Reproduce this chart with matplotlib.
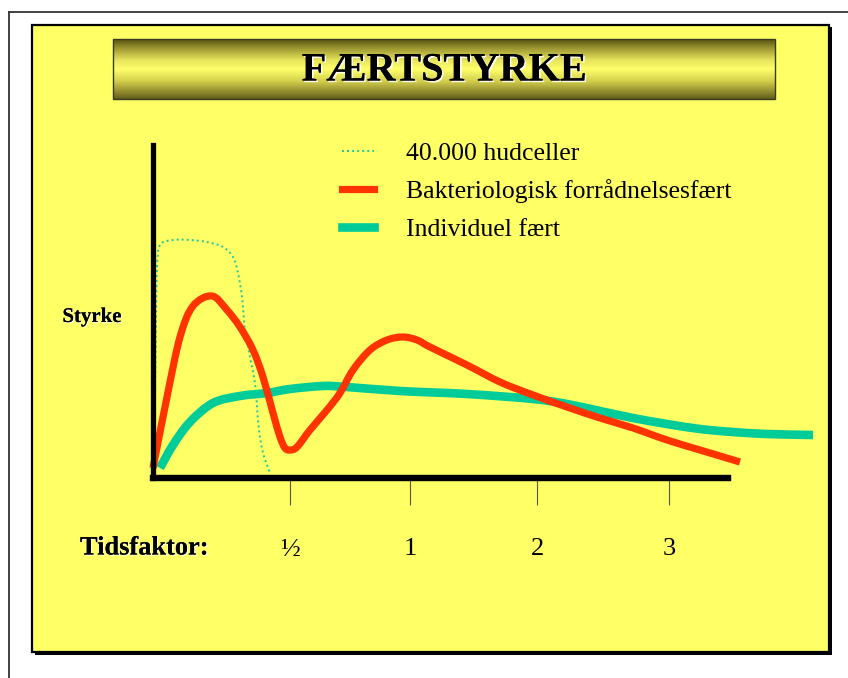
import numpy as np
import matplotlib
matplotlib.use('Agg')
import matplotlib.pyplot as plt
import matplotlib.patheffects as pe
from matplotlib.colors import LinearSegmentedColormap
from matplotlib.patches import Rectangle, PathPatch
from matplotlib.path import Path
from matplotlib.lines import Line2D

# Tidsakse: tick-positioner og etiketter
tick_pos = [1.37, 2.57, 3.84, 5.16]
tick_labels = ['½', '1', '2', '3']

# 40.000 hudceller (prikket)
hud_x = [0.00, 0.02, 0.03, 0.04, 0.07, 0.20, 0.37, 0.54, 0.70, 0.80, 0.85, 0.89,
         0.92, 0.97, 1.02, 1.04, 1.06, 1.10, 1.17]
hud_y = [0.14, 0.80, 1.60, 2.10, 2.33, 2.38, 2.38, 2.36, 2.31, 2.21, 2.05, 1.81,
         1.48, 1.21, 0.95, 0.71, 0.48, 0.25, 0.05]

# Bakteriologisk forrådnelsesfært
bak_x = [0.00, 0.14, 0.27, 0.40, 0.59, 0.74, 0.87, 1.00, 1.10, 1.20, 1.27,
         1.32, 1.37, 1.44, 1.57, 1.74, 1.87, 2.00, 2.17, 2.34, 2.50, 2.64, 2.77,
         3.14, 3.47, 3.80, 4.14, 4.47, 4.80, 5.14, 5.47, 5.87]
bak_y = [0.10, 0.81, 1.41, 1.72, 1.82, 1.68, 1.51, 1.28, 1.01, 0.65, 0.41,
         0.30, 0.28, 0.31, 0.48, 0.68, 0.85, 1.08, 1.28, 1.38, 1.41, 1.38, 1.31,
         1.13, 0.96, 0.83, 0.71, 0.60, 0.50, 0.38, 0.28, 0.16]

# Individuel fært
ind_x = [0.07, 0.20, 0.37, 0.60, 0.87, 1.14, 1.37, 1.70, 1.94, 2.47, 3.14, 3.80,
         4.14, 4.47, 4.80, 5.14, 5.47, 5.80, 6.14, 6.60]
ind_y = [0.10, 0.33, 0.56, 0.75, 0.82, 0.85, 0.89, 0.92, 0.91, 0.87, 0.84, 0.79,
         0.74, 0.67, 0.60, 0.54, 0.49, 0.46, 0.44, 0.43]

W, H = 848, 678
yellow = '#ffff66'
teal = '#00cc99'
red = '#ff3300'
dot_col = '#1ec8a0'
serif = ['Liberation Serif', 'DejaVu Serif']


def smooth_path(xs, ys):
    # glat kurve gennem punkterne (Catmull-Rom som kubiske Bezier-segmenter)
    p = np.column_stack([xs, ys])
    verts = [p[0]]
    codes = [Path.MOVETO]
    for i in range(len(p) - 1):
        p0 = p[i - 1] if i > 0 else p[i]
        p3 = p[i + 2] if i + 2 < len(p) else p[i + 1]
        c1 = p[i] + (p[i + 1] - p0) / 6
        c2 = p[i + 1] - (p3 - p[i]) / 6
        verts += [c1, c2, p[i + 1]]
        codes += [Path.CURVE4] * 3
    return Path(verts, codes)


fig = plt.figure(figsize=(W / 100, H / 100), dpi=100, facecolor='white')

# baggrund i pixel-koordinater
bg = fig.add_axes([0, 0, 1, 1], zorder=0)
bg.set_xlim(0, W)
bg.set_ylim(H, 0)
bg.axis('off')
bg.plot([8.5, W], [11.5, 11.5], color='#333333', lw=1.3)
bg.plot([8.5, 8.5], [11.5, H], color='#333333', lw=1.3)
# panel med skygge
bg.add_patch(Rectangle((35, 27), 797, 628, facecolor='black', edgecolor='none'))
bg.add_patch(Rectangle((32, 24.5), 796.5, 627, facecolor=yellow, edgecolor='black', lw=1.6))

# titelbanner med gradient
cmap = LinearSegmentedColormap.from_list('banner', [
    (0.0, '#56520f'), (0.15, '#9c9630'), (0.35, '#e6e45c'), (0.5, '#ffff6a'),
    (0.7, '#d4d04c'), (0.9, '#8a842c'), (1.0, '#625c1c')])
grad = np.linspace(0, 1, 200).reshape(-1, 1)
bg.imshow(grad, cmap=cmap, aspect='auto', extent=(113, 775, 99, 39), zorder=2)
bg.add_patch(Rectangle((113, 39), 662, 60, facecolor='none', edgecolor='#3a3a20', lw=1.0, zorder=3))
bg.text(444, 71, 'FÆRTSTYRKE', family=serif, fontsize=29, fontweight='bold',
        ha='center', va='center', zorder=4,
        path_effects=[pe.withSimplePatchShadow(offset=(1.2, -1.2), shadow_rgbFace='white', alpha=0.9),
                      pe.Normal()])

shadow = [pe.withSimplePatchShadow(offset=(0.8, -0.8), shadow_rgbFace='white', alpha=0.9), pe.Normal()]
bg.text(92, 317, 'Styrke', family=serif, fontsize=15, fontweight='bold',
        ha='center', va='center', path_effects=shadow)
bg.text(80, 548, 'Tidsfaktor:', family=serif, fontsize=19, fontweight='bold',
        ha='left', va='center', path_effects=shadow)

# diagram
ax = fig.add_axes([153 / W, 200 / H, 665 / W, 333 / H], zorder=5)
ax.patch.set_alpha(0)
ax.set_xlim(0, 6.65)
ax.set_ylim(0, 3.33)

ax.add_patch(PathPatch(smooth_path(hud_x, hud_y), facecolor='none', edgecolor=dot_col,
                       lw=1.4, ls=(0, (1, 1.6)), clip_on=False))
ax.add_patch(PathPatch(smooth_path(ind_x, ind_y), facecolor='none', edgecolor=teal,
                       lw=6.2, joinstyle='round', capstyle='butt', clip_on=False))
ax.add_patch(PathPatch(smooth_path(bak_x, bak_y), facecolor='none', edgecolor=red,
                       lw=5.2, joinstyle='round', capstyle='butt', clip_on=False))

for side in ['top', 'right']:
    ax.spines[side].set_visible(False)
ax.spines['left'].set_linewidth(3.8)
ax.spines['bottom'].set_linewidth(4.6)
ax.spines['bottom'].set_bounds(0, 5.75)
ax.spines['left'].set_capstyle('projecting')
ax.spines['bottom'].set_capstyle('projecting')
ax.set_yticks([])
ax.set_xticks(tick_pos, tick_labels)
ax.tick_params(axis='x', direction='out', length=19.5, width=0.8, color='#5a5a30',
               pad=24, labelsize=19)
for lab in ax.get_xticklabels():
    lab.set_family(serif)

handles = [Line2D([], [], color=dot_col, lw=1.4, ls=(0, (1, 1.6))),
           Line2D([], [], color=red, lw=5.2),
           Line2D([], [], color=teal, lw=6.2)]
ax.legend(handles, ['40.000 hudceller', 'Bakteriologisk forrådnelsesfært', 'Individuel fært'],
          loc='upper left', bbox_to_anchor=(342 / W, 1 - 142 / H), bbox_transform=fig.transFigure,
          frameon=False, prop={'family': serif, 'size': 18.5},
          handlelength=1.25, handletextpad=1.25, labelspacing=0.56, borderpad=0, borderaxespad=0)

fig.savefig('out.png', dpi=100, facecolor='white')
